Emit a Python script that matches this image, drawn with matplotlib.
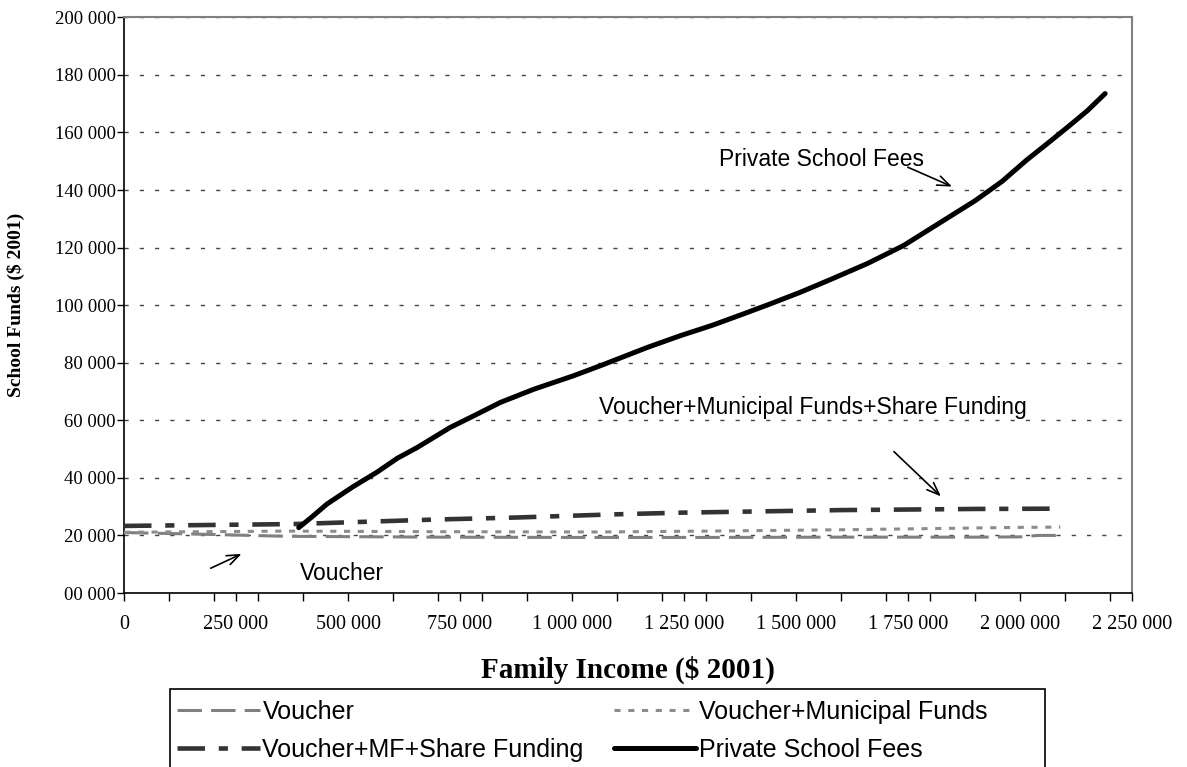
import matplotlib
matplotlib.use("Agg")
import matplotlib.pyplot as plt
from matplotlib.patches import Rectangle

# data (income in $, funds in $)
income_v = [0, 180000, 360000, 700000, 1000000, 1300000, 1600000, 1900000, 2000000, 2040000, 2090000]
voucher = [21000, 20400, 19700, 19400, 19300, 19300, 19400, 19400, 19500, 20000, 20000]

income_m = [0, 360000, 700000, 1060000, 1300000, 1620000, 1860000, 2000000, 2090000]
voucher_mf = [21100, 21500, 21300, 21200, 21500, 22000, 22500, 22800, 22900]

income_s = [0, 350000, 390000, 690000, 870000, 1090000, 1240000, 1600000, 1900000, 2090000]
voucher_mf_share = [23300, 23900, 24000, 25500, 26200, 27300, 27900, 28800, 29200, 29300]

income_p = [390000, 420000, 453000, 512000, 565000, 610000, 654000, 728000, 780000, 840000,
            915000, 1004000, 1064000, 1168000, 1242000, 1313000, 1380000, 1442000, 1510000,
            1580000, 1660000, 1740000, 1820000, 1900000, 1960000, 2014000, 2060000, 2106000,
            2150000, 2190000]
private_fees = [22700, 26500, 30900, 37000, 42000, 46800, 50500, 57500, 61500, 66200,
                70800, 75500, 79000, 85300, 89400, 93000, 96800, 100400, 104500,
                109100, 114500, 120700, 128500, 136300, 143000, 150300, 156000, 161800,
                167500, 173500]

yticks = [0, 20000, 40000, 60000, 80000, 100000, 120000, 140000, 160000, 180000, 200000]
ytick_labels = ["00 000", "20 000", "40 000", "60 000", "80 000", "100 000",
                "120 000", "140 000", "160 000", "180 000", "200 000"]
xticks = [0, 250000, 500000, 750000, 1000000, 1250000, 1500000, 1750000, 2000000, 2250000]
xtick_labels = ["0", "250 000", "500 000", "750 000", "1 000 000", "1 250 000",
                "1 500 000", "1 750 000", "2 000 000", "2 250 000"]
xminor = [100000, 200000, 300000, 400000, 600000, 700000, 800000, 900000, 1100000,
          1200000, 1300000, 1400000, 1600000, 1700000, 1800000, 1900000, 2100000, 2200000]

W, H = 1187, 767
fig = plt.figure(figsize=(W / 100, H / 100), dpi=100)
ax = fig.add_axes([124 / W, 1 - 593 / H, (1132 - 124) / W, (593 - 17.3) / H])

l_v, = ax.plot(income_v, voucher, color="#808080", lw=2.2, dashes=(8, 3), label="Voucher", zorder=3)
l_m, = ax.plot(income_m, voucher_mf, color="#8c8c8c", lw=2.2, dashes=(2, 2.5),
               label="Voucher+Municipal Funds", zorder=3)
l_s, = ax.plot(income_s, voucher_mf_share, color="#333333", lw=3.3, dashes=(6, 3, 2, 3),
               label="Voucher+MF+Share Funding", zorder=4)
l_p, = ax.plot(income_p, private_fees, color="black", lw=3.6, solid_capstyle="round",
               solid_joinstyle="round", label="Private School Fees", zorder=5)

ax.set_xlim(0, 2250000)
ax.set_ylim(0, 200000)
ax.set_yticks(yticks)
ax.set_yticklabels(ytick_labels, family="Liberation Serif", fontsize=13.5)
ax.set_xticks(xticks)
ax.set_xticklabels(xtick_labels, family="Liberation Serif", fontsize=14.5)
ax.set_xticks(xminor, minor=True)
ax.tick_params(axis="y", direction="out", length=5, width=1, pad=1)
ax.tick_params(axis="x", which="both", direction="out", length=6, width=1, pad=10)

ax.grid(axis="y", color="#444444", lw=1, dashes=(3, 8))
ax.set_axisbelow(True)
for s in ["left", "bottom"]:
    ax.spines[s].set_color("black")
    ax.spines[s].set_linewidth(1.2)
for s in ["top", "right"]:
    ax.spines[s].set_color("#808080")
    ax.spines[s].set_linewidth(1.5)

ax.set_ylabel("School Funds ($ 2001)", family="Liberation Serif", fontweight="bold", fontsize=14)
ax.yaxis.set_label_coords((25 - 124) / 1008, 0.5)
ax.set_xlabel("Family Income ($ 2001)", family="Liberation Serif", fontweight="bold", fontsize=21)
ax.xaxis.set_label_coords(0.5, (593 - 656) / 575.7)

# annotations
afont = dict(family="Liberation Sans", fontsize=16.5)
arrow = dict(arrowstyle="->,head_length=0.9,head_width=0.35", color="black", lw=1.2)
ax.text(1328000, 150500, "Private School Fees", va="center", ha="left", **afont)
ax.annotate("", xy=(1854000, 140800), xytext=(1744000, 148300), arrowprops=arrow)
ax.text(1060000, 64300, "Voucher+Municipal Funds+Share Funding", va="center", ha="left", **afont)
ax.annotate("", xy=(1828000, 32900), xytext=(1714000, 49800), arrowprops=arrow)
ax.text(393000, 6900, "Voucher", va="center", ha="left", **afont)
ax.annotate("", xy=(268000, 14000), xytext=(188000, 8200), arrowprops=arrow)

# legend, filled row by row like the original
handles = [l_v, l_s, l_m, l_p]
fig.legend(handles, [h.get_label() for h in handles], loc="upper left",
           bbox_to_anchor=(177 / W, 1 - 700 / H),
           ncol=2, frameon=False, prop=dict(family="Liberation Sans", size=18),
           handlelength=3.3, handletextpad=0.12, columnspacing=1.2,
           labelspacing=0.56, borderpad=0, borderaxespad=0)
fig.patches.append(Rectangle((170 / W, -0.05), (1045 - 170) / W, 0.05 + 1 - 689 / H,
                             transform=fig.transFigure, fill=False, edgecolor="black", lw=1.2))

fig.savefig("out.png", dpi=100)
